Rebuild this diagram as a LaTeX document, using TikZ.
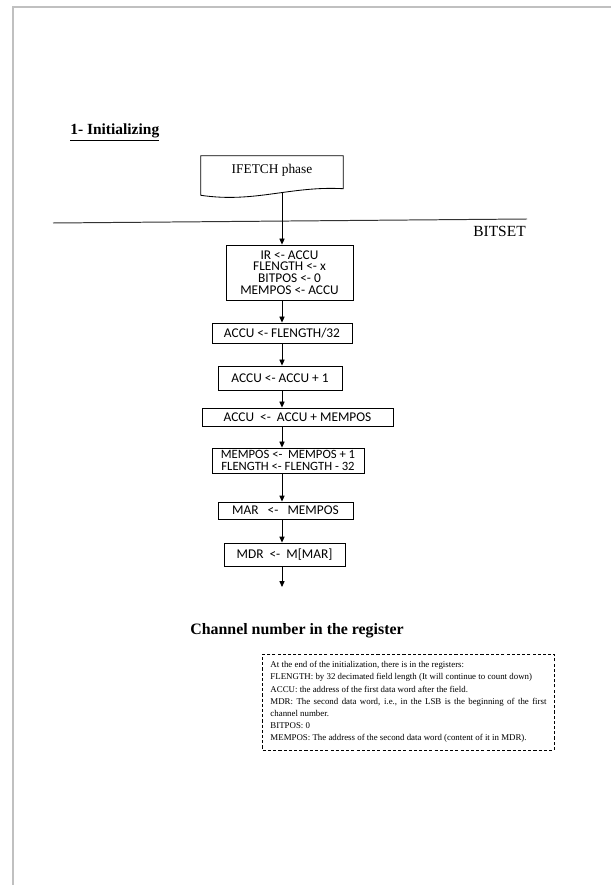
\documentclass[tikz,border=0pt]{standalone}
\usepackage{fontspec}
\setmainfont{Liberation Serif}
\newfontfamily\calibrifont{Carlito}
\usepackage{tikz}
\usetikzlibrary{arrows.meta,positioning,calc}
\definecolor{PageGray}{RGB}{192,192,192}

\begin{document}
\begin{tikzpicture}[
    x=0.025cm, y=-0.025cm,
    regbox/.style={draw, line width=0.6pt, inner sep=0pt, align=center, font=\calibrifont\fontsize{9.5}{8.3}\selectfont},
    notebox/.style={draw, dash pattern=on 2.2pt off 1.5pt, line width=0.6pt, text width=6.9cm, inner xsep=0.19cm, minimum height=2.4cm, align=justify, font=\fontsize{6.3}{8.6}\selectfont},
    heading/.style={inner sep=0pt, font=\bfseries\fontsize{11.3}{13}\selectfont},
    arrow/.style={-{Triangle[length=1.5mm,width=1.3mm]}, line width=0.6pt}
  ]
    \useasboundingbox (0,0) rectangle (611,885);
    \draw[PageGray, line width=1.3pt] (13,885) -- (13,7) -- (611,7);
    \node[heading, anchor=base west, font=\bfseries\fontsize{11}{13}\selectfont] (title) at (70,135) {\underline{1- Initializing}};
    \node[inner sep=0pt, minimum width=3.55cm, minimum height=0.7cm, font=\fontsize{9.5}{11}\selectfont] (fetch) at (272,170) {IFETCH phase};
    \draw[line width=0.6pt] (fetch.north west) -- (fetch.north east) -- ++(0,33) .. controls +(-53,-3) and +(54,8) .. ($(fetch.south west)+(0,11)$) -- cycle;
    \draw[black!80, line width=0.7pt] (53,223) -- (527,219);
    \node[anchor=east, inner sep=0pt, font=\fontsize{11}{13}\selectfont] (bitset) at (526,231) {BITSET};
    \coordinate (spine) at (282,245);
    \node[regbox, minimum width=3.175cm, minimum height=1.375cm] (init) at (289.5,272.5) {IR <- ACCU\\ FLENGTH <- x\\ BITPOS <- 0\\ MEMPOS <- ACCU};
    \node[regbox, minimum width=3.5cm, minimum height=0.5cm] (div) at (282,333) {ACCU <- FLENGTH/32};
    \node[regbox, minimum width=3.1cm, minimum height=0.6cm] (inc) at (280,378) {ACCU <- ACCU + 1};
    \node[regbox, minimum width=4.775cm, minimum height=0.45cm] (add) at (297.5,417) {ACCU~ <-~ ACCU + MEMPOS};
    \node[regbox, minimum width=3.8cm, minimum height=0.625cm, font=\calibrifont\fontsize{9}{8}\selectfont] (dec) at (288,460.5) {MEMPOS <-~ MEMPOS + 1\\ FLENGTH <- FLENGTH - 32};
    \node[regbox, minimum width=3.375cm, minimum height=0.425cm] (mar) at (285.5,510.5) {MAR~~ <-~~ MEMPOS};
    \node[regbox, minimum width=3.025cm, minimum height=0.575cm] (mdr) at (284.5,554.5) {MDR~ <-~ M[MAR]};
    \coordinate (tail) at (282,587);
    \draw[arrow] ($(fetch.south -| spine)+(0,8.5)$) -- (init.north -| spine);
    \draw[arrow] (init.south -| spine) -- (div.north -| spine);
    \draw[arrow] (div.south -| spine) -- (inc.north -| spine);
    \draw[arrow] (inc.south -| spine) -- (add.north -| spine);
    \draw[arrow] (add.south -| spine) -- (dec.north -| spine);
    \draw[arrow] (dec.south -| spine) -- (mar.north -| spine);
    \draw[arrow] (mar.south -| spine) -- (mdr.north -| spine);
    \draw[arrow] (mdr.south -| spine) -- (tail);
    \node[heading] (channel) at (297,631) {Channel number in the register};
    \node[notebox] (note) at (408.5,702) {At the end of the initialization, there is in the registers:\\
      FLENGTH: by 32 decimated field length (It will continue to count down)\\
      ACCU: the address of the first data word after the field.\\
      MDR: The second data word, i.e.,\ in the LSB is the beginning of the first\linebreak channel number.\\
      BITPOS: 0\\
      MEMPOS: The address of the second data word (content of it in MDR).};
  \end{tikzpicture}
\end{document}
